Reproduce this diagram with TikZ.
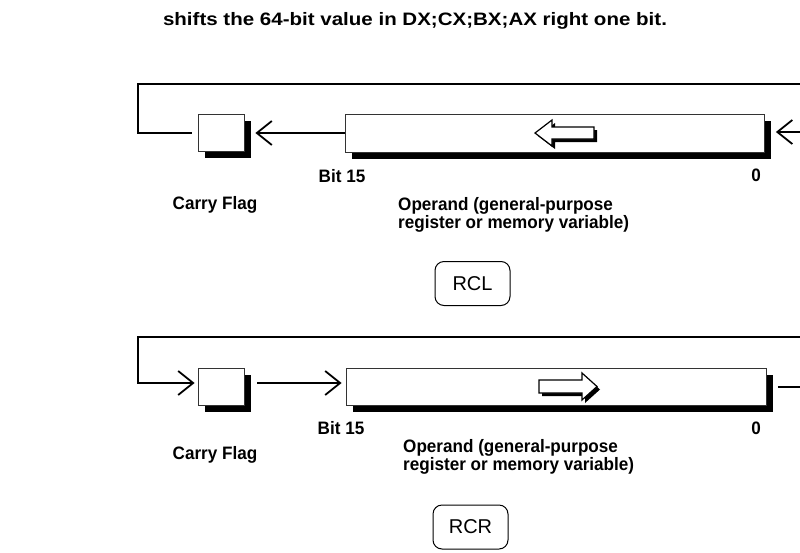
\documentclass[tikz,border=0pt]{standalone}
\usepackage{fontspec}
\setmainfont{Liberation Sans}
\newfontfamily\lblfont[FakeStretch=0.95]{Liberation Sans Bold}
\newfontfamily\ttlfont[FakeStretch=1.14]{Liberation Sans Bold}
\usetikzlibrary{arrows.meta,shadows}
\begin{document}
\begin{tikzpicture}[x=1pt,y=-1pt,
  regbox/.style={draw=black!80, line width=0.8pt, fill=white, inner sep=0pt,
    drop shadow={opacity=1, fill=black, shadow xshift=6.5pt, shadow yshift=-6.5pt}},
  loopline/.style={line width=2.3pt},
  conn/.style={line width=1.8pt, -{Straight Barb[length=15pt,width=24pt,line width=1.8pt]}},
  lbl/.style={font=\lblfont\fontsize{18}{15}\selectfont, inner sep=0pt, anchor=base},
  opbox/.style={draw, line width=1pt, rounded corners=9pt, minimum width=75pt, minimum height=44pt,
    font=\fontsize{20}{20}\selectfont},
  hollow/.style={draw, fill=white, line width=1.2pt, line join=miter}
]
\useasboundingbox (0,0) rectangle (800,552);

\node[font=\ttlfont\fontsize{18}{18}\selectfont, inner sep=0pt, anchor=base] (title) at (415,25)
  {shifts the 64-bit value in DX;CX;BX;AX right one bit.};

% ---------- RCL ----------
\node[regbox, minimum width=46pt, minimum height=37pt] (cf1) at (221,133) {};
\node[regbox, minimum width=419pt, minimum height=38pt] (op1) at (554.5,133) {};
\coordinate (c1a) at (138,84);
\coordinate (e1a) at (800,84);
\coordinate (e1b) at (800,132);
\draw[loopline] ([xshift=-6pt]cf1.west) -| (c1a) -- (e1a);
\draw[conn] (e1b) -- ([xshift=11.5pt]op1.east |- e1b);
\draw[conn] (op1.west) -- ([xshift=11pt]cf1.east);
\fill[black] (538,136) -- (555,123) -- (555,130) -- (597,130) -- (597,142) -- (555,142) -- (555,149) -- cycle;
\draw[hollow] (535,133) -- (552,120) -- (552,127) -- (594,127) -- (594,139) -- (552,139) -- (552,146) -- cycle;

\node[lbl] (b1) at (342,182) {Bit 15};
\node[lbl] (z1) at (756,181) {0};
\node[lbl] (cfl1) at (215,209) {Carry Flag};
\node[lbl, anchor=base west, align=left] (opl1) at (398,228) {Operand (general-purpose\\register or memory variable)};
\node[opbox] (rcl) at (472.5,283.5) {RCL};

% ---------- RCR ----------
\node[regbox, minimum width=46pt, minimum height=37pt] (cf2) at (221,386.5) {};
\node[regbox, minimum width=420pt, minimum height=37pt] (op2) at (556,386.5) {};
\coordinate (c2a) at (138,337);
\coordinate (e2a) at (800,337);
\coordinate (e2b) at (800,387);
\draw[conn, line width=2.2pt] (e2a) -- (c2a) |- ([xshift=-3pt,yshift=3.5pt]cf2.west);
\draw[loopline] ([xshift=11.5pt]op2.east |- e2b) -- (e2b);
\draw[conn] ([xshift=13pt,yshift=3.5pt]cf2.east) -- ([xshift=-4pt,yshift=3.5pt]op2.west);
\fill[black] (542,383) -- (585,383) -- (585,376) -- (600,389.5) -- (585,403) -- (585,396) -- (542,396) -- cycle;
\draw[hollow] (539,380) -- (582,380) -- (582,373) -- (597,386.5) -- (582,400) -- (582,393) -- (539,393) -- cycle;

\node[lbl] (b2) at (341,434) {Bit 15};
\node[lbl] (z2) at (756,434) {0};
\node[lbl] (cfl2) at (215,459) {Carry Flag};
\node[lbl, anchor=base west, align=left] (opl2) at (403,470) {Operand (general-purpose\\register or memory variable)};
\node[opbox] (rcr) at (470.5,527) {RCR};
\end{tikzpicture}
\end{document}
